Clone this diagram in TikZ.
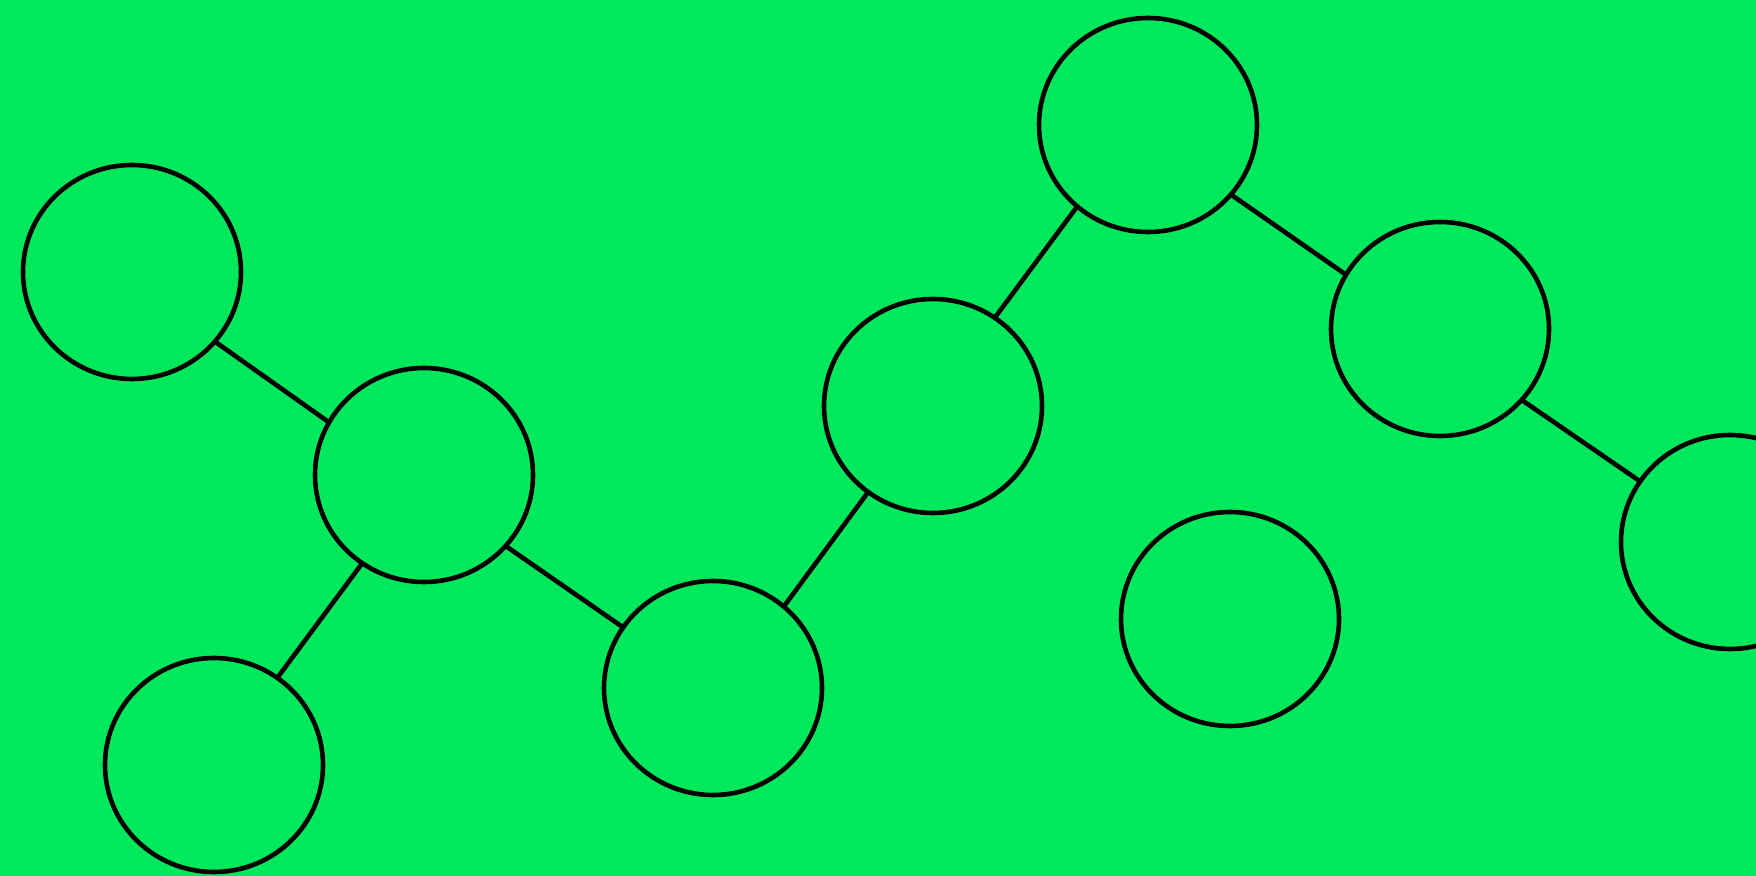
\documentclass[tikz,border=0pt]{standalone}
\usetikzlibrary{shapes.geometric}
\definecolor{bg}{RGB}{0,232,92}
\begin{document}
\begin{tikzpicture}[x=0.5pt,y=-0.5pt,
  nd/.style={ellipse,draw=black,line width=2.3pt,minimum width=109pt,minimum height=107pt,inner sep=0pt,outer sep=0pt},
  ed/.style={draw=black,line width=2.3pt}]
\useasboundingbox (0,0) rectangle (1756,876);
\fill[bg] (0,0) rectangle (1756,876);
\clip (0,0) rectangle (1756,876);
\node[nd] (a) at (132,272) {};
\node[nd] (b) at (424,475) {};
\node[nd] (c) at (214,765) {};
\node[nd] (d) at (713,688) {};
\node[nd] (e) at (933,406) {};
\node[nd] (f) at (1148,125) {};
\node[nd] (g) at (1440,329) {};
\node[nd] (h) at (1230,619) {};
\node[nd] (i) at (1730,542) {};
\draw[ed] (a.-40.9) -- (b.151.2);
\draw[ed] (b.-125) -- (c.54.2);
\draw[ed] (b.-41) -- (d.146.8);
\draw[ed] (d.49.3) -- (e.-127.3);
\draw[ed] (e.55.2) -- (f.-131.3);
\draw[ed] (f.-40.9) -- (g.150.8);
\draw[ed] (g.-41) -- (i.146.3);
\end{tikzpicture}
\end{document}
